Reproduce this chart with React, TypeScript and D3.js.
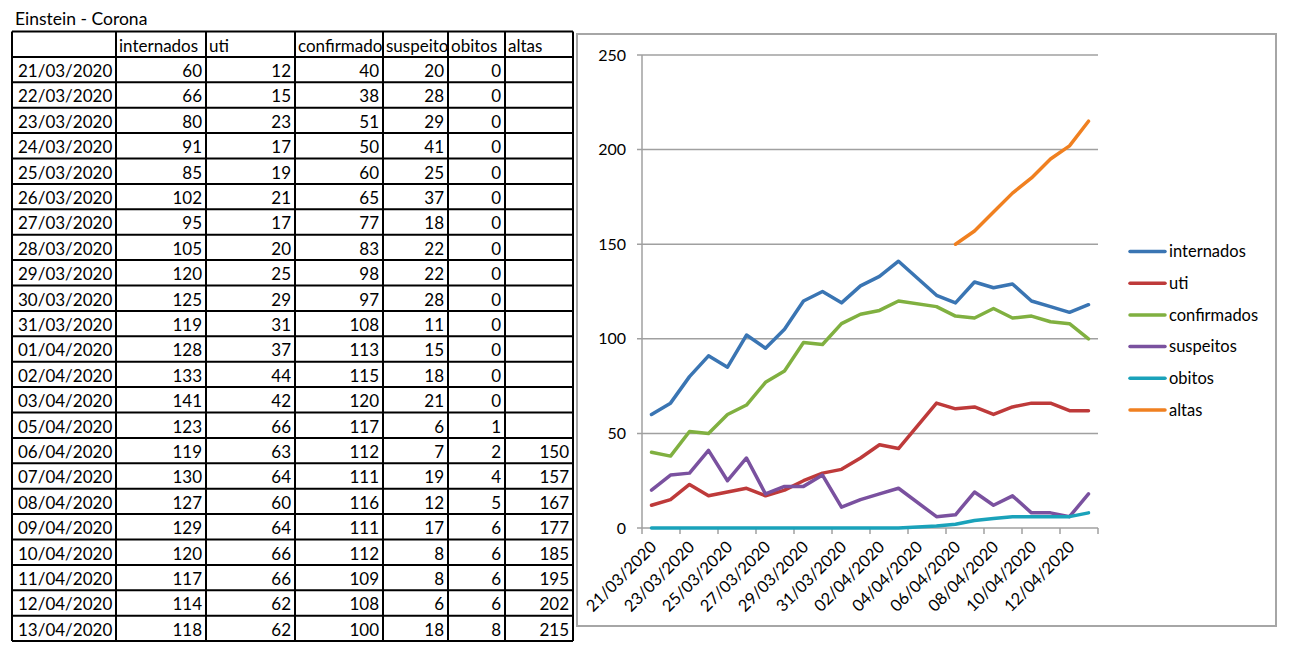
import React from "react";
import * as d3 from "d3";

const title = "Einstein - Corona";
const headers = ["", "internados", "uti", "confirmados", "suspeitos", "obitos", "altas"];
const dates = [
  "21/03/2020", "22/03/2020", "23/03/2020", "24/03/2020", "25/03/2020", "26/03/2020",
  "27/03/2020", "28/03/2020", "29/03/2020", "30/03/2020", "31/03/2020", "01/04/2020",
  "02/04/2020", "03/04/2020", "05/04/2020", "06/04/2020", "07/04/2020", "08/04/2020",
  "09/04/2020", "10/04/2020", "11/04/2020", "12/04/2020", "13/04/2020",
];
const internados = [60, 66, 80, 91, 85, 102, 95, 105, 120, 125, 119, 128, 133, 141, 123, 119, 130, 127, 129, 120, 117, 114, 118];
const uti = [12, 15, 23, 17, 19, 21, 17, 20, 25, 29, 31, 37, 44, 42, 66, 63, 64, 60, 64, 66, 66, 62, 62];
const confirmados = [40, 38, 51, 50, 60, 65, 77, 83, 98, 97, 108, 113, 115, 120, 117, 112, 111, 116, 111, 112, 109, 108, 100];
const suspeitos = [20, 28, 29, 41, 25, 37, 18, 22, 22, 28, 11, 15, 18, 21, 6, 7, 19, 12, 17, 8, 8, 6, 18];
const obitos = [0, 0, 0, 0, 0, 0, 0, 0, 0, 0, 0, 0, 0, 0, 1, 2, 4, 5, 6, 6, 6, 6, 8];
const altas: (number | null)[] = [
  null, null, null, null, null, null, null, null, null, null, null, null, null, null, null,
  150, 157, 167, 177, 185, 195, 202, 215,
];
const yTicks = [0, 50, 100, 150, 200, 250];

const seriesNames = ["internados", "uti", "confirmados", "suspeitos", "obitos", "altas"];
const seriesValues: (number | null)[][] = [internados, uti, confirmados, suspeitos, obitos, altas];
const seriesColors = ["#3a75b3", "#be3a3a", "#80b040", "#7a519f", "#1aa2ba", "#f08020"];

const FONT = "Lato, 'Open Sans', sans-serif";

export default function App() {
  const parse = d3.utcParse("%d/%m/%Y");
  const fmt = d3.utcFormat("%d/%m/%Y");
  const parsed = dates.map((d) => parse(d) as Date);
  const first = parsed[0];
  const last = parsed[parsed.length - 1];

  const x = d3
    .scaleUtc()
    .domain([d3.utcHour.offset(first, -12), d3.utcHour.offset(last, 12)])
    .range([642, 1098]);
  const y = d3.scaleLinear().domain([0, 250]).range([528, 55]);

  const boundaries = d3.utcDay
    .range(d3.utcDay.offset(first, 0), d3.utcDay.offset(last, 2), 2)
    .map((d) => d3.utcHour.offset(d, -12));
  const labelDates = d3.utcDay.range(first, d3.utcDay.offset(last, 1), 2).filter((d) => d < last);

  // table geometry
  const colEdges = [12, 116, 206, 295, 383, 448, 505, 573];
  const tableTop = 31.5;
  const rowH = 25.4;
  const rows = dates.map((d, i) => [
    d,
    internados[i],
    uti[i],
    confirmados[i],
    suspeitos[i],
    obitos[i],
    altas[i],
  ]);
  const nRows = rows.length + 1;
  const tableBottom = tableTop + nRows * rowH;

  return (
    <svg
      width={1292}
      height={658}
      style={{ position: "absolute", left: 0, top: 0, background: "#fff" }}
      fontFamily={FONT}
    >
      <rect x={0} y={0} width={1292} height={658} fill="#fff" />
      <defs>
        {headers.map((h, j) => (
          <clipPath id={`hc${j}`} key={j}>
            <rect x={colEdges[j]} y={tableTop} width={colEdges[j + 1] - colEdges[j] - 1} height={rowH} />
          </clipPath>
        ))}
      </defs>
      <text x={15} y={25} fontSize={17.5} fill="#000">
        {title}
      </text>

      {/* table text */}
      {headers.map((h, j) => (
        <text
          key={"h" + j}
          x={colEdges[j] + 3}
          y={tableTop + 20}
          fontSize={17}
          fill="#000"
          clipPath={`url(#hc${j})`}
        >
          {h}
        </text>
      ))}
      {rows.map((r, i) =>
        r.map((v, j) =>
          v === null ? null : (
            <text
              key={`c${i}-${j}`}
              x={j === 0 ? colEdges[0] + 6 : colEdges[j + 1] - 4}
              y={tableTop + (i + 1) * rowH + 20}
              fontSize={17}
              textAnchor={j === 0 ? "start" : "end"}
              fill="#000"
            >
              {String(v)}
            </text>
          )
        )
      )}
      {/* table grid */}
      {d3.range(nRows + 1).map((i) => (
        <line
          key={"hr" + i}
          x1={colEdges[0]}
          x2={colEdges[colEdges.length - 1]}
          y1={tableTop + i * rowH}
          y2={tableTop + i * rowH}
          stroke="#000"
          strokeWidth={2}
        />
      ))}
      {colEdges.map((cx, j) => (
        <line key={"vr" + j} x1={cx} x2={cx} y1={tableTop} y2={tableBottom} stroke="#000" strokeWidth={2} />
      ))}

      {/* chart frame */}
      <rect x={577} y={34} width={699} height={592} fill="none" stroke="#a6a6a6" strokeWidth={2} />

      {/* gridlines */}
      {yTicks.map((t) => (
        <g key={"y" + t}>
          <line x1={637} x2={1098} y1={y(t)} y2={y(t)} stroke="#a0a0a0" strokeWidth={1.5} />
          <text x={626} y={y(t)} dy="0.35em" textAnchor="end" fontSize={16} fill="#000">
            {t}
          </text>
        </g>
      ))}
      <line x1={642} x2={642} y1={y(250)} y2={y(0)} stroke="#a0a0a0" strokeWidth={1.5} />
      {boundaries.map((b, i) => (
        <line key={"xt" + i} x1={x(b)} x2={x(b)} y1={y(0)} y2={y(0) + 6} stroke="#a0a0a0" strokeWidth={1.5} />
      ))}
      {labelDates.map((d, i) => (
        <text
          key={"xl" + i}
          transform={`translate(${x(d) + 2},${y(0) + 16}) rotate(-45)`}
          textAnchor="end"
          dy="0.35em"
          fontSize={16.5}
          fill="#000"
        >
          {fmt(d)}
        </text>
      ))}

      {/* series */}
      {seriesValues.map((vals, s) => {
        const line = d3
          .line<number | null>()
          .defined((v) => v !== null)
          .x((_, i) => x(parsed[i]))
          .y((v) => y(v as number));
        return (
          <path
            key={"s" + s}
            d={line(vals) || ""}
            fill="none"
            stroke={seriesColors[s]}
            strokeWidth={3.5}
            strokeLinejoin="round"
            strokeLinecap="round"
          />
        );
      })}

      {/* legend */}
      {seriesNames.map((n, i) => {
        const ly = 251.5 + i * 31.7;
        return (
          <g key={"lg" + i}>
            <line x1={1130} x2={1165} y1={ly} y2={ly} stroke={seriesColors[i]} strokeWidth={3.5} strokeLinecap="round" />
            <text x={1169} y={ly} dy="0.35em" fontSize={16.5} fill="#000">
              {n}
            </text>
          </g>
        );
      })}
    </svg>
  );
}
